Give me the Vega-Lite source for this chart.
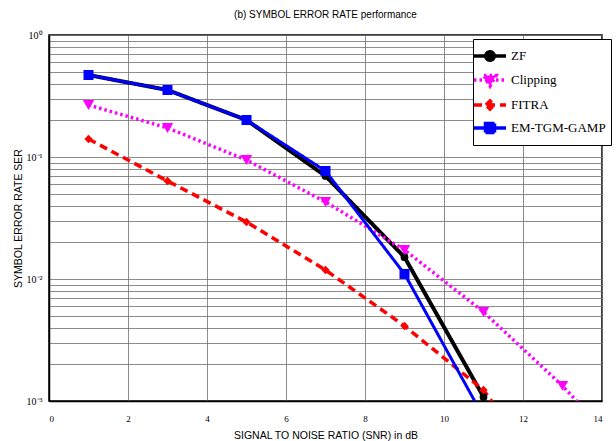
{
  "$schema": "https://vega.github.io/schema/vega-lite/v6.json",
  "width": 553,
  "height": 366,
  "autosize": "none",
  "padding": {"left": 49, "top": 35, "right": 14, "bottom": 40},
  "background": "white",
  "title": {"text": "(b) SYMBOL ERROR RATE performance", "fontSize": 10, "font": "Liberation Sans", "fontWeight": "normal", "offset": 10, "anchor": "middle", "color": "black"},
  "config": {
    "view": {"stroke": "black", "strokeWidth": 1.5},
    "axis": {"gridColor": "#707070", "gridOpacity": 1, "gridWidth": 0.8, "domainColor": "black", "domainWidth": 1.5, "tickColor": "black", "labelColor": "black", "titleColor": "black", "titleFont": "Liberation Sans", "titleFontWeight": "normal", "titleFontSize": 10.5, "labelFont": "Liberation Serif", "labelFontSize": 9},
    "legend": {"title": null, "orient": "none", "legendX": 424, "legendY": 4, "fillColor": "white", "strokeColor": "black", "padding": 5, "labelFont": "Liberation Serif", "labelFontSize": 13, "labelColor": "black", "rowPadding": 0, "symbolSize": 400, "labelOffset": 9, "symbolStrokeWidth": 3.5}
  },
  "data": {"values": [
    {"series": "ZF", "snr": 1, "ser": 0.47},
    {"series": "ZF", "snr": 3, "ser": 0.354},
    {"series": "ZF", "snr": 5, "ser": 0.201},
    {"series": "ZF", "snr": 7, "ser": 0.0699},
    {"series": "ZF", "snr": 9, "ser": 0.0151},
    {"series": "ZF", "snr": 11, "ser": 0.00108},
    {"series": "Clipping", "snr": 1, "ser": 0.267},
    {"series": "Clipping", "snr": 3, "ser": 0.173},
    {"series": "Clipping", "snr": 5, "ser": 0.0945},
    {"series": "Clipping", "snr": 7, "ser": 0.0428},
    {"series": "Clipping", "snr": 9, "ser": 0.0173},
    {"series": "Clipping", "snr": 11, "ser": 0.00537},
    {"series": "Clipping", "snr": 13, "ser": 0.00133},
    {"series": "Clipping", "snr": 15, "ser": 0.00027},
    {"series": "FITRA", "snr": 1, "ser": 0.1405},
    {"series": "FITRA", "snr": 3, "ser": 0.0636},
    {"series": "FITRA", "snr": 5, "ser": 0.0293},
    {"series": "FITRA", "snr": 7, "ser": 0.01185},
    {"series": "FITRA", "snr": 9, "ser": 0.00412},
    {"series": "FITRA", "snr": 11, "ser": 0.00123},
    {"series": "FITRA", "snr": 13, "ser": 0.00016},
    {"series": "EM-TGM-GAMP", "snr": 1, "ser": 0.47},
    {"series": "EM-TGM-GAMP", "snr": 3, "ser": 0.354},
    {"series": "EM-TGM-GAMP", "snr": 5, "ser": 0.201},
    {"series": "EM-TGM-GAMP", "snr": 7, "ser": 0.0768},
    {"series": "EM-TGM-GAMP", "snr": 9, "ser": 0.011},
    {"series": "EM-TGM-GAMP", "snr": 11, "ser": 0.00074}
  ]},
  "layer": [
    {
      "mark": {"type": "line", "clip": true},
      "encoding": {
        "x": {"field": "snr", "type": "quantitative", "scale": {"domain": [0, 14], "nice": false},
              "axis": {"title": "SIGNAL TO NOISE RATIO (SNR) in dB", "values": [0, 2, 4, 6, 8, 10, 12, 14], "grid": true, "ticks": false, "labelPadding": 13, "titlePadding": 7}},
        "y": {"field": "ser", "type": "quantitative", "scale": {"type": "log", "domain": [0.001, 1], "nice": false},
              "axis": {"title": "SYMBOL ERROR RATE SER", "values": [0.001, 0.002, 0.003, 0.004, 0.005, 0.006, 0.007, 0.008, 0.009, 0.01, 0.02, 0.03, 0.04, 0.05, 0.06, 0.07, 0.08, 0.09, 0.1, 0.2, 0.3, 0.4, 0.5, 0.6, 0.7, 0.8, 0.9, 1],
                       "grid": true, "ticks": false, "labelOverlap": false, "labelPadding": 7, "titlePadding": 3, "labelFontSize": 10, "labelFont": "Liberation Serif",
                       "labelExpr": "abs(datum.value - 1) < 1e-9 ? '10⁰' : abs(datum.value - 0.1) < 1e-9 ? '10⁻¹' : abs(datum.value - 0.01) < 1e-9 ? '10⁻²' : abs(datum.value - 0.001) < 1e-9 ? '10⁻³' : ''"}},
        "color": {"field": "series", "type": "nominal", "scale": {"domain": ["ZF", "Clipping", "FITRA", "EM-TGM-GAMP"], "range": ["#000000", "#ff00ff", "#ff0000", "#0000ff"]}},
        "strokeDash": {"field": "series", "type": "nominal", "scale": {"domain": ["ZF", "Clipping", "FITRA", "EM-TGM-GAMP"], "range": [[1, 0], [2.5, 3], [8, 5], [1, 0]]}},
        "strokeWidth": {"condition": [{"test": "datum.series == 'ZF'", "value": 4}, {"test": "datum.series == 'EM-TGM-GAMP'", "value": 3}], "value": 3.5}
      }
    },
    {
      "mark": {"type": "point", "filled": true, "clip": true, "opacity": 1},
      "encoding": {
        "x": {"field": "snr", "type": "quantitative"},
        "y": {"field": "ser", "type": "quantitative"},
        "color": {"field": "series", "type": "nominal"},
        "shape": {"condition": [{"test": "datum.series == 'ZF'", "value": "circle"}, {"test": "datum.series == 'Clipping'", "value": "triangle-down"}, {"test": "datum.series == 'FITRA'", "value": "diamond"}], "value": "square"},
        "size": {"condition": [{"test": "datum.series == 'ZF'", "value": 60}, {"test": "datum.series == 'Clipping'", "value": 130}, {"test": "datum.series == 'FITRA'", "value": 70}], "value": 100}
      }
    },
    {
      "transform": [{"filter": "false"}],
      "mark": {"type": "point", "filled": true, "opacity": 1, "strokeWidth": 3.5},
      "encoding": {
        "x": {"field": "snr", "type": "quantitative"},
        "y": {"field": "ser", "type": "quantitative"},
        "color": {"field": "series", "type": "nominal"},
        "stroke": {"field": "series", "type": "nominal", "scale": {"domain": ["ZF", "Clipping", "FITRA", "EM-TGM-GAMP"], "range": ["#000000", "#ff00ff", "#ff0000", "#0000ff"]}},
        "strokeDash": {"field": "series", "type": "nominal"},
        "shape": {"field": "series", "type": "nominal", "scale": {"domain": ["ZF", "Clipping", "FITRA", "EM-TGM-GAMP"], "range": [
          "M-1.6,0H1.6M-0.42,0A0.42,0.42,0,1,1,0.42,0A0.42,0.42,0,1,1,-0.42,0Z",
          "M-1.6,0H1.6M-0.6,-0.45L0.6,-0.45L0,0.6Z",
          "M-1.6,0H1.6M-0.4,0L0,-0.4L0.4,0L0,0.4Z",
          "M-1.6,0H1.6M-0.45,-0.45H0.45V0.45H-0.45Z"]}}
      }
    }
  ]
}
